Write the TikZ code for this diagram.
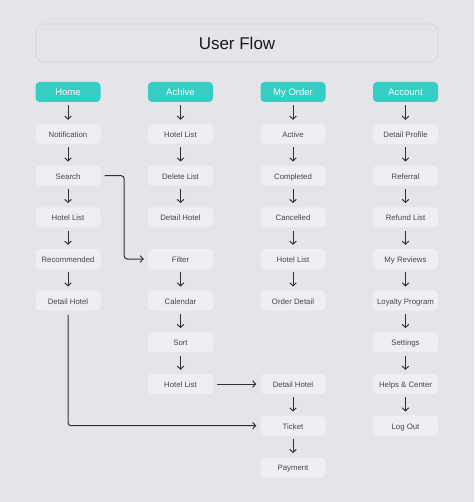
\documentclass[tikz,border=0pt]{standalone}
\usepackage{fontspec}
\setmainfont{Liberation Sans}
\usetikzlibrary{arrows.meta,positioning}
\definecolor{bgc}{HTML}{E4E5E9}
\definecolor{boxc}{HTML}{EEEFF3}
\definecolor{teal}{HTML}{36CDC2}
\definecolor{txt}{HTML}{45464B}
\definecolor{linec}{HTML}{303136}
\definecolor{titleb}{HTML}{D2D3DB}
\tikzset{
  item/.style={rounded corners=4pt, fill=boxc, minimum width=65pt, minimum height=20pt, inner sep=0pt, text height=1.6ex, text depth=0.35ex, font=\fontsize{7.8}{9}\selectfont, text=txt},
  head/.style={rounded corners=4pt, fill=teal, minimum width=65pt, minimum height=20pt, inner sep=0pt, text height=1.6ex, text depth=0.35ex, font=\fontsize{9.5}{11}\selectfont, text=white},
  arr/.style={draw=linec, line width=1pt, -{Straight Barb[length=3pt,width=6.5pt]}, shorten <=3pt, shorten >=4pt},
  conn/.style={arr, rounded corners=3pt, shorten >=4pt, shorten <=4pt}
}
\begin{document}
\begin{tikzpicture}[x=1pt,y=-1pt]
\useasboundingbox (0,0) rectangle (474,502);
\fill[bgc] (0,0) rectangle (474,502);
\node[draw=titleb, line width=0.6pt, fill=bgc, rounded corners=8pt, minimum width=402pt, minimum height=38pt, font=\fontsize{17}{20}\selectfont, text=black!90] (title) at (237,43) {User Flow};
% columns
\def\ca{68}\def\cb{180.5}\def\cc{293}\def\cd{405.5}
\node[head] (home) at (\ca,92) {Home};
\node[head] (achive) at (\cb,92) {Achive};
\node[head] (order) at (\cc,92) {My Order};
\node[head] (account) at (\cd,92) {Account};
% Home column
\node[item] (h1) at (\ca,134) {Notification};
\node[item] (h2) at (\ca,175.7) {Search};
\node[item] (h3) at (\ca,217.3) {Hotel List};
\node[item] (h4) at (\ca,259) {Recommended};
\node[item] (h5) at (\ca,300.7) {Detail Hotel};
% Achive column
\node[item] (a1) at (\cb,134) {Hotel List};
\node[item] (a2) at (\cb,175.7) {Delete List};
\node[item] (a3) at (\cb,217.3) {Detail Hotel};
\node[item] (a4) at (\cb,259) {Filter};
\node[item] (a5) at (\cb,300.7) {Calendar};
\node[item] (a6) at (\cb,342.3) {Sort};
\node[item] (a7) at (\cb,384) {Hotel List};
% My Order column
\node[item] (o1) at (\cc,134) {Active};
\node[item] (o2) at (\cc,175.7) {Completed};
\node[item] (o3) at (\cc,217.3) {Cancelled};
\node[item] (o4) at (\cc,259) {Hotel List};
\node[item] (o5) at (\cc,300.7) {Order Detail};
\node[item] (o6) at (\cc,384) {Detail Hotel};
\node[item] (o7) at (\cc,425.7) {Ticket};
\node[item] (o8) at (\cc,467.3) {Payment};
% Account column
\node[item] (c1) at (\cd,134) {Detail Profile};
\node[item] (c2) at (\cd,175.7) {Referral};
\node[item] (c3) at (\cd,217.3) {Refund List};
\node[item] (c4) at (\cd,259) {My Reviews};
\node[item] (c5) at (\cd,300.7) {Loyalty Program};
\node[item] (c6) at (\cd,342.3) {Settings};
\node[item] (c7) at (\cd,384) {Helps \& Center};
\node[item] (c8) at (\cd,425.7) {Log Out};
% vertical arrows
\foreach \a/\b in {home/h1,h1/h2,h2/h3,h3/h4,h4/h5,
  achive/a1,a1/a2,a2/a3,a4/a5,a5/a6,a6/a7,
  order/o1,o1/o2,o2/o3,o3/o4,o4/o5,o6/o7,o7/o8,
  account/c1,c1/c2,c2/c3,c3/c4,c4/c5,c5/c6,c6/c7,c7/c8}
  \draw[arr] (\a.south) -- (\b.north);
% cross connectors
\draw[conn] (h2.east) -- ++(23.5,0) |- (a4.west);
\draw[conn] (a7.east) -- (o6.west);
\draw[conn] (h5.south) |- (o7.west);
\end{tikzpicture}
\end{document}
